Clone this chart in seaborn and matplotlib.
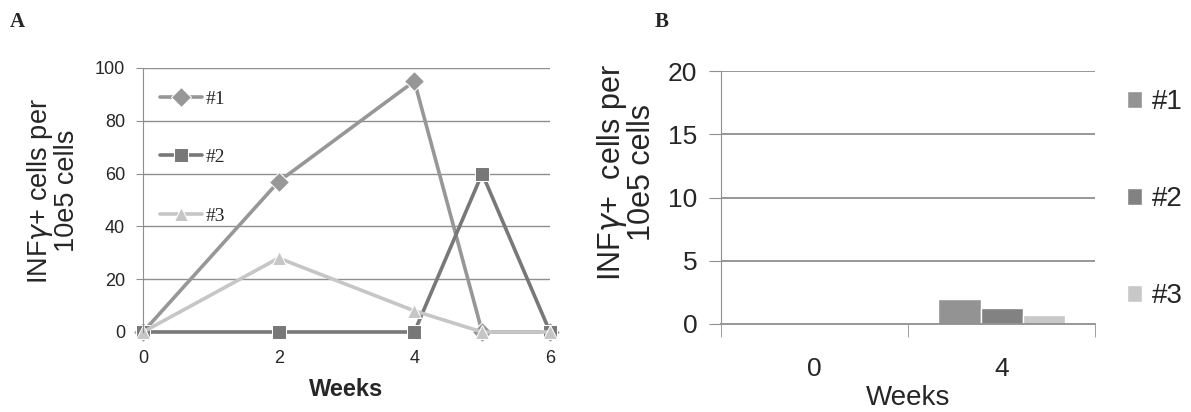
import pandas as pd
import numpy as np
import matplotlib
matplotlib.use('Agg')
import matplotlib.pyplot as plt
import seaborn as sns

# ---- data ----
weeks = [0, 2, 4, 5, 6]
mouse1 = [0, 57, 95, 0, 0]
mouse2 = [0, 0, 0, 60, 0]
mouse3 = [0, 28, 8, 0, 0]
series_names = ['#1', '#2', '#3']

bar_weeks = ['0', '4']
bar1 = [0, 2.0]
bar2 = [0, 1.3]
bar3 = [0, 0.7]

line_colors = ['#979797', '#787878', '#c6c6c6']
bar_colors = ['#939393', '#828282', '#c8c8c8']
grid_col = '#8f8f8f'

line_df = pd.DataFrame({
    'Weeks': weeks * 3,
    'val': mouse1 + mouse2 + mouse3,
    'series': [s for s in series_names for _ in weeks],
})
bar_df = pd.DataFrame({
    'Weeks': bar_weeks * 3,
    'val': bar1 + bar2 + bar3,
    'series': [s for s in series_names for _ in bar_weeks],
})

sns.set_style('white')
plt.rcParams['font.family'] = ['Liberation Sans', 'DejaVu Sans']

fig = plt.figure(figsize=(11.91, 4.12), dpi=100)

# ---------- panel A ----------
axA = fig.add_axes([0.1201, 0.1942, 0.3417, 0.6408])
for y in range(20, 101, 20):
    axA.axhline(y, color=grid_col, lw=1, zorder=0)
sns.lineplot(data=line_df, x='Weeks', y='val', hue='series', style='series',
             markers=['D', 's', '^'], dashes=False, palette=line_colors,
             markersize=10, linewidth=2.6, ax=axA, clip_on=False)
axA.set_xlim(0, 6)
axA.set_ylim(0, 100)
axA.set_xticks([0, 2, 4, 6])
axA.set_yticks(range(0, 101, 20))
axA.tick_params(axis='x', labelsize=13, length=0, pad=13)
axA.tick_params(axis='y', labelsize=13, length=5, color=grid_col, direction='out', left=True, pad=8)
for s in ['top', 'right', 'bottom']:
    axA.spines[s].set_visible(False)
axA.spines['left'].set_color(grid_col)
axA.set_xlabel('Weeks', fontsize=17, fontweight='bold', labelpad=8)
axA.set_ylabel('INF$\\gamma$+ cells per\n10e5 cells', fontsize=19.5, linespacing=0.95)
axA.yaxis.set_label_coords(-0.155, 0.534)
axA.legend(loc='upper left', bbox_to_anchor=(0.134, 0.781), bbox_transform=fig.transFigure,
           frameon=False, borderpad=0, borderaxespad=0,
           labelspacing=2.1, handlelength=2.2, handletextpad=0.15,
           prop={'family': 'Liberation Serif', 'size': 14})
fig.text(0.008, 0.935, 'A', fontsize=15, fontweight='bold', family='Liberation Serif')

# ---------- panel B ----------
axB = fig.add_axes([0.6054, 0.2136, 0.314, 0.614])
for y in range(5, 21, 5):
    axB.axhline(y, color=grid_col, lw=1.3, zorder=0)
sns.barplot(data=bar_df, x='Weeks', y='val', hue='series', palette=bar_colors,
            width=0.674, gap=0, ax=axB, saturation=1, zorder=2)
axB.set_xlim(-0.5, 1.5)
axB.set_ylim(0, 20)
axB.set_yticks(range(0, 21, 5))
axB.set_xticks([-0.5, 0.5, 1.5], minor=True)
axB.tick_params(axis='x', which='minor', length=9, color=grid_col, direction='out', bottom=True)
axB.tick_params(axis='x', which='major', labelsize=19, length=0, pad=24)
axB.tick_params(axis='y', which='major', labelsize=19, length=9, color=grid_col,
                direction='out', left=True, pad=8)
for s in ['top', 'right']:
    axB.spines[s].set_visible(False)
axB.spines['left'].set_color(grid_col)
axB.spines['bottom'].set_color(grid_col)
axB.spines['bottom'].set_linewidth(1.3)
axB.set_xlabel('Weeks', fontsize=20, labelpad=3)
axB.set_ylabel('INF$\\gamma$+  cells per\n10e5 cells', fontsize=22, linespacing=0.9)
axB.yaxis.set_label_coords(-0.171, 0.597)
axB.legend(loc='upper left', bbox_to_anchor=(0.946, 0.783), bbox_transform=fig.transFigure,
           frameon=False, borderpad=0, borderaxespad=0,
           labelspacing=2.55, handlelength=0.55, handleheight=0.55, handletextpad=0.35,
           fontsize=20)
fig.text(0.550, 0.935, 'B', fontsize=15, fontweight='bold', family='Liberation Serif')

fig.savefig('out.png', dpi=100)
